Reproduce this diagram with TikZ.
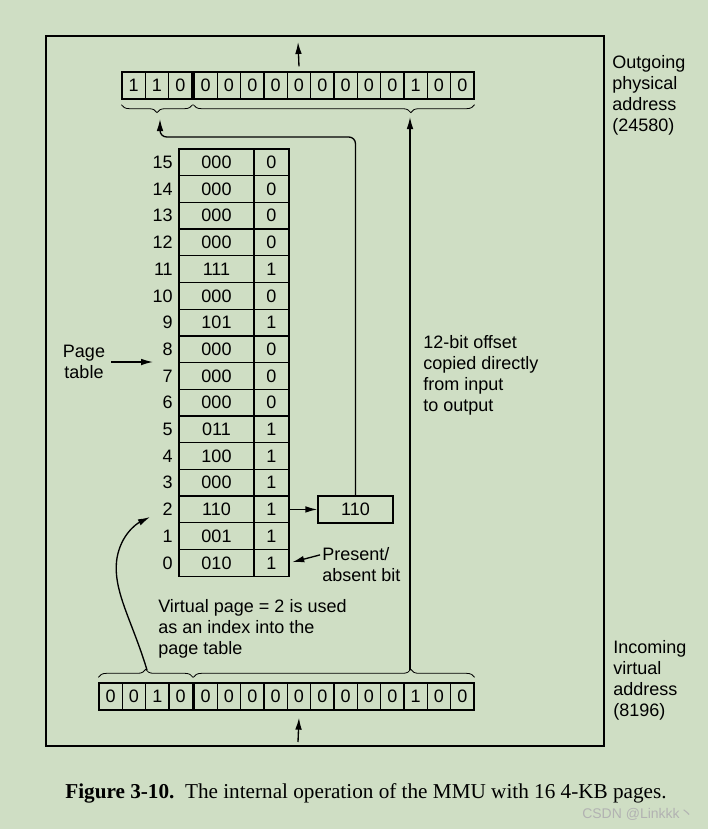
\documentclass[tikz,border=0pt]{standalone}
\usepackage{fontspec}
\setmainfont{Liberation Sans}
\newfontfamily\capfont{Liberation Serif}
\newfontfamily\cjkfont{Noto Sans CJK SC}
\usepackage{tikz}
\usetikzlibrary{calc}
\usetikzlibrary{arrows.meta}
\usetikzlibrary{decorations.pathreplacing}

\definecolor{mmupaper}{RGB}{207,222,196}
\newcommand{\mmufont}{\fontsize{13.5}{15.75}\selectfont}

\begin{document}
\begin{tikzpicture}[x=0.75pt, y=-0.75pt, >={Latex[length=9pt,width=5pt]},
    every node/.style={font=\mmufont, inner sep=0pt},
    bitcell/.style={draw, line width=1pt, minimum width=17.5pt, minimum height=20.25pt},
    framecell/.style={draw, line width=1pt, minimum width=56.25pt, minimum height=20pt},
    presentcell/.style={draw, line width=1pt, minimum width=26.25pt, minimum height=20pt},
    note/.style={align=left, anchor=north west},
    wire/.style={line width=1pt},
    pbrace/.style={decorate, decoration={brace, mirror, amplitude=6pt}, line width=0.6pt},
    vbrace/.style={decorate, decoration={brace, amplitude=6pt}, line width=0.6pt}]
    \def\cw{23.33}; % register cell width
    \def\py{85.5}; % physical address y coordinate
    \def\vy{696.5}; % virtual address y coordinate
    \def\tx{179}; % page table left x coordinate
    \def\ty{149}; % page table top y coordinate
    \def\rh{26.7}; % page table row height

    % background %%%%%%%%%%%%%%%%%%%%%%%%%%%%%%%%%%%%%%%%%%%%%%%%%%%%%%%%%%%%%%%%%%%%%%%%%%%%%%%%%%
    \fill[mmupaper] (0,0) rectangle (708,829);
    \draw[line width=1.1pt] (46,36) rectangle (604,746);

    % physical address %%%%%%%%%%%%%%%%%%%%%%%%%%%%%%%%%%%%%%%%%%%%%%%%%%%%%%%%%%%%%%%%%%%%%%%%%%%%
    \foreach \b [count=\i] in {1,1,0}{
      \node[bitcell] (phys\i) at (122+\cw*\i-\cw/2, \py) {\b};
    }
    \foreach \b [count=\i from 4] in {0,0,0,0,0,0,0,0,0,1,0,0}{
      \node[bitcell] (phys\i) at (194+\cw*\i-\cw*3.5, \py) {\b};
    }

    % virtual address %%%%%%%%%%%%%%%%%%%%%%%%%%%%%%%%%%%%%%%%%%%%%%%%%%%%%%%%%%%%%%%%%%%%%%%%%%%%%
    \foreach \b [count=\i] in {0,0,1,0}{
      \node[bitcell] (virt\i) at (99+\cw*\i-\cw/2, \vy) {\b};
    }
    \foreach \b [count=\i from 5] in {0,0,0,0,0,0,0,0,0,1,0,0}{
      \node[bitcell] (virt\i) at (194+\cw*\i-\cw*4.5, \vy) {\b};
    }

    % page table %%%%%%%%%%%%%%%%%%%%%%%%%%%%%%%%%%%%%%%%%%%%%%%%%%%%%%%%%%%%%%%%%%%%%%%%%%%%%%%%%%
    \foreach \n/\f/\p in {15/000/0, 14/000/0, 13/000/0, 12/000/0, 11/111/1, 10/000/0, 9/101/1, 8/000/0,
                          7/000/0, 6/000/0, 5/011/1, 4/100/1, 3/000/1, 2/110/1, 1/001/1, 0/010/1}{
      \node[framecell] (pfn\n) at (\tx+37.5, \ty+\rh*15.5-\rh*\n) {\f};
      \node[presentcell] (pbit\n) at (\tx+92.5, \ty+\rh*15.5-\rh*\n) {\p};
      \node[anchor=east] (vpn\n) at (\tx-6, \ty+\rh*15.5-\rh*\n) {\n};
    }
    \node[framecell, minimum height=20.25pt] (copy) at (355.5, \ty+\rh*13.5) {110};

    % braces %%%%%%%%%%%%%%%%%%%%%%%%%%%%%%%%%%%%%%%%%%%%%%%%%%%%%%%%%%%%%%%%%%%%%%%%%%%%%%%%%%%%%%
    \draw[pbrace] ([yshift=-3.75pt]phys1.south west) -- ([yshift=-3.75pt]phys3.south east);
    \draw[pbrace, decoration={aspect=0.773}] ([yshift=-3.75pt]phys4.south west) -- ([yshift=-3.75pt]phys15.south east);
    \draw[vbrace] ([yshift=3.75pt]virt1.north west) -- ([yshift=3.75pt]virt4.north east);
    \draw[vbrace, decoration={aspect=0.773}] ([yshift=3.75pt]virt5.north west) -- ([yshift=3.75pt]virt16.north east);

    % annotations %%%%%%%%%%%%%%%%%%%%%%%%%%%%%%%%%%%%%%%%%%%%%%%%%%%%%%%%%%%%%%%%%%%%%%%%%%%%%%%%%
    \node[align=center, anchor=north] (ptlabel) at (84,345) {Page\\table};
    \node[note] (pabit) at (322,547) {Present/\\absent bit};
    \node[note] (vpnnote) at (158,599) {Virtual page = 2 is used\\as an index into the\\page table};
    \node[note] (offnote) at (423,335) {12-bit offset\\copied directly\\from input\\to output};
    \node[note] (physnote) at (612,55) {Outgoing\\physical\\address\\(24580)};
    \node[note] (virtnote) at (613,640) {Incoming\\virtual\\address\\(8196)};
    \node[font=\capfont\fontsize{15.9}{19}\selectfont, anchor=base] (caption) at (366,798)
      {\textbf{Figure 3-10.}\enspace The internal operation of the MMU with 16 4-KB pages.};
    \node[font=\fontsize{10.5}{12}\selectfont, text=gray!60!white, anchor=base east] (mark) at (694,818)
      {CSDN @Linkkk{\cjkfont 丶}};

    % arrows %%%%%%%%%%%%%%%%%%%%%%%%%%%%%%%%%%%%%%%%%%%%%%%%%%%%%%%%%%%%%%%%%%%%%%%%%%%%%%%%%%%%%%
    \coordinate (physout) at (298,42);
    \coordinate (virtin) at (298,742);
    \coordinate (offin) at (410,670);
    \coordinate (offout) at (410,117);
    \coordinate (ppnturn) at (160,137);
    \coordinate (ppntip) at (160,119);
    \coordinate (pttip) at (153,362);
    \coordinate (vpnin) at (147,670);
    \coordinate (vpntip) at (150,517);
    \draw[->, wire] ([yshift=3.75pt]phys8.north) -- (physout);
    \draw[->, wire] (virtin) -- ([yshift=-5.25pt]virt9.south);
    \draw[->, wire] (offin) -- (offout);
    \draw[->, wire, rounded corners=5pt] (copy.north) |- (ppnturn) -- (ppntip);
    \draw[->, wire] (pbit2.east) -- (copy.west);
    \draw[->, wire, shorten <=4.5pt] (ptlabel.east |- pttip) -- (pttip);
    \draw[->, wire, shorten <=1.5pt, shorten >=2pt] ([yshift=7.5pt]pabit.west) -- (pbit0.east);
    \draw[->, wire] (vpnin) .. controls (132,620) and (112,590) .. (117,558)
      .. controls (121,535) and (136,524) .. (vpntip);
\end{tikzpicture}
\end{document}
